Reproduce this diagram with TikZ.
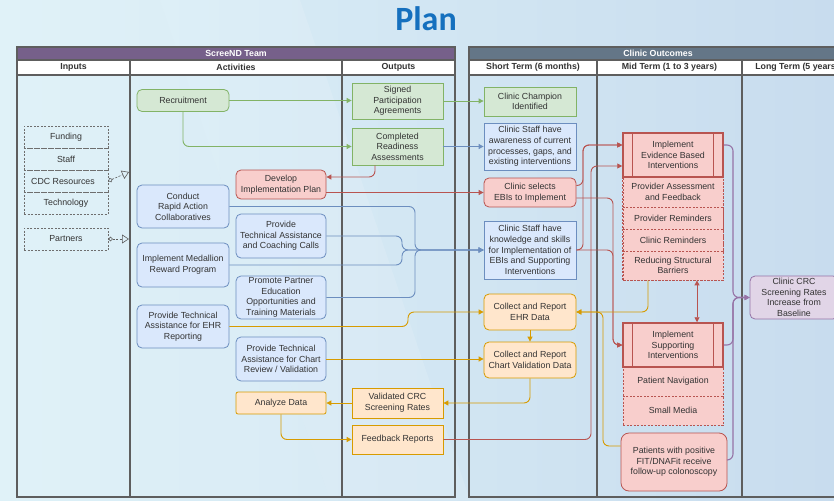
\documentclass[tikz,border=0pt]{standalone}
\usepackage{fontspec}
\setmainfont{Liberation Sans}
\newfontfamily\titlefont{Carlito}
\usetikzlibrary{arrows.meta,calc}
\definecolor{gfill}{HTML}{D5E8D4}\definecolor{gline}{HTML}{82B366}
\definecolor{bfill}{HTML}{DAE8FC}\definecolor{bline}{HTML}{6C8EBF}
\definecolor{rfill}{HTML}{F8CECC}\definecolor{rline}{HTML}{B85450}
\definecolor{ofill}{HTML}{FFE6CC}\definecolor{oline}{HTML}{D79B00}
\definecolor{pfill}{HTML}{E1D5E7}\definecolor{pline}{HTML}{9673A6}
\definecolor{txt}{HTML}{333333}
\definecolor{lanec}{HTML}{5E5E5E}
\definecolor{purph}{HTML}{76608A}
\definecolor{slateh}{HTML}{647687}
\definecolor{titleblue}{HTML}{1570BE}
\definecolor{bgA}{HTML}{DDF1F8}
\definecolor{bgB}{HTML}{C8DCEE}
\begin{document}
\begin{tikzpicture}[x=1pt,y=-1pt,font=\fontsize{8.8}{10.6}\selectfont,
  sz/.style 2 args={minimum width=#1,minimum height=#2},
  box/.style={draw,line width=0.8pt,align=center,inner sep=0pt,text=txt},
  gbox/.style={box,fill=gfill,draw=gline},
  bbox/.style={box,fill=bfill,draw=bline},
  rbox/.style={box,fill=rfill,draw=rline},
  obox/.style={box,fill=ofill,draw=oline},
  pbox/.style={box,fill=pfill,draw=pline},
  rnd/.style={rounded corners=5pt},
  inbox/.style={box,draw=lanec!90,dash pattern=on 2pt off 1.5pt,line width=0.6pt,sz={84}{22}},
  secbox/.style={rbox,dash pattern=on 2pt off 1.5pt,sz={100}{#1}},
  lane/.style={draw=lanec,line width=1.3pt},
  hdr/.style={font=\bfseries\fontsize{8.8}{10}\selectfont},
  tip/.style={-{Triangle[length=5pt,width=5pt]}},
  conn/.style={line width=0.9pt,rounded corners=6pt},
  garr/.style={conn,draw=gline,tip},
  barr/.style={conn,draw=bline,tip},
  rarr/.style={conn,draw=rline,tip},
  oarr/.style={conn,draw=oline,tip},
  parr/.style={conn,draw=pline,line width=1.1pt,tip},
  inarr/.style={draw=lanec,line width=0.6pt,dash pattern=on 2pt off 1.5pt,
     {Circle[open,length=4.5pt,width=4.5pt]}-{Triangle[open,length=7pt,width=9pt]}}
]
\useasboundingbox (0,0) rectangle (834,500);
\clip (0,0) rectangle (834,500);
% background
\shade[left color=bgA,right color=bgB] (0,0) rectangle (834,500);
\fill[white,opacity=0.12] (160,0) -- (300,0) -- (470,500) -- (330,500) -- cycle;
\fill[white,opacity=0.10] (0,0) -- (160,0) -- (330,500) -- (0,500) -- cycle;

% title
\node[font=\titlefont\bfseries\fontsize{34}{34}\selectfont,text=titleblue] (title) at (426,19) {Plan};

% ScreeND lane
\fill[purph] (17,47) rectangle (455,60);
\fill[white] (17,60) rectangle (455,75);
\draw[lane] (17,47) rectangle (455,497);
\draw[lane] (17,60) -- (455,60);
\draw[lane] (17,75) -- (455,75);
\draw[lane] (130,60) -- (130,497);
\draw[lane] (342,60) -- (342,497);
\node[hdr,text=white] (teamh) at (236,53.5) {ScreeND Team};
\node[hdr,text=txt] (inh) at (73.5,67.5) {Inputs};
\node[hdr,text=txt] (acth) at (236,67.5) {Activities};
\node[hdr,text=txt] (outh) at (398.5,67.5) {Outputs};

% Clinic lane
\fill[slateh] (469,47) rectangle (847,60);
\fill[white] (469,60) rectangle (847,75);
\draw[lane] (469,47) rectangle (847,497);
\draw[lane] (469,60) -- (847,60);
\draw[lane] (469,75) -- (847,75);
\draw[lane] (597,60) -- (597,497);
\draw[lane] (742,60) -- (742,497);
\node[hdr,text=white] (clinh) at (658,53.5) {Clinic Outcomes};
\node[hdr,text=txt] (sth) at (533,67.5) {Short Term (6 months)};
\node[hdr,text=txt] (mth) at (669.5,67.5) {Mid Term (1 to 3 years)};
\node[hdr,text=txt] (lth) at (797,67.5) {Long Term (5 years)};

% inputs
\node[inbox] (fund) at (66,137) {Funding};
\node[inbox] (staff) at (66,159) {Staff};
\node[inbox] (cdc) at (66,181) {CDC Resources\hspace{6pt}};
\node[inbox] (tech) at (66,203) {Technology};
\node[inbox] (part) at (66,239) {Partners};
\coordinate (cdcend) at (129,172);
\coordinate (partend) at (129,239);

% activities
\node[gbox,rnd,sz={92}{22}] (rec) at (183,100.5) {Recruitment};
\node[rbox,rnd,sz={90}{29}] (dev) at (281,184.5) {Develop\\Implementation Plan};
\node[bbox,rnd,sz={92}{43}] (crac) at (183,206.5) {Conduct\\Rapid Action\\Collaboratives};
\node[bbox,rnd,sz={90}{44}] (pta) at (281,236) {Provide\\Technical Assistance\\and Coaching Calls};
\node[bbox,rnd,sz={92}{44}] (med) at (183,265) {Implement Medallion\\Reward Program};
\node[bbox,rnd,sz={90}{43}] (ppe) at (281,297.5) {Promote Partner\\Education\\Opportunities and\\Training Materials};
\node[bbox,rnd,sz={92}{43}] (ehrr) at (183,326.5) {Provide Technical\\Assistance for EHR\\Reporting};
\node[bbox,rnd,sz={90}{44}] (chr) at (281,359) {Provide Technical\\Assistance for Chart\\Review / Validation};
\node[obox,rounded corners=2pt,sz={90}{22}] (ana) at (281,403) {Analyze Data};

% outputs
\node[gbox,sz={91}{36}] (spa) at (397.5,101) {Signed\\Participation\\Agreements};
\node[gbox,sz={91}{37}] (cra) at (397.5,146.5) {Completed\\Readiness\\Assessments};
\node[obox,sz={91}{30}] (vcrc) at (397.5,403) {Validated CRC\\Screening Rates};
\node[obox,sz={91}{29}] (fbr) at (397.5,439.5) {Feedback Reports};

% short term
\node[gbox,sz={92}{29}] (champ) at (530,101.5) {Clinic Champion\\Identified};
\node[bbox,sz={92}{47}] (aware) at (530,146.5) {Clinic Staff have\\awareness of current\\processes, gaps, and\\existing interventions};
\node[rbox,rnd,sz={92}{29}] (sel) at (530,192.5) {Clinic selects\\EBIs to Implement};
\node[bbox,sz={92}{58}] (know) at (530,250) {Clinic Staff have\\knowledge and skills\\for Implementation of\\EBIs and Supporting\\Interventions};
\node[obox,rnd,sz={92}{36}] (ehrd) at (530,312) {Collect and Report\\EHR Data};
\node[obox,rnd,sz={92}{36}] (cvd) at (530,360) {Collect and Report\\Chart Validation Data};

% mid term
\node[secbox=30] (pa) at (673,192) {Provider Assessment\\and Feedback};
\node[secbox=22] (pr) at (673,218) {Provider Reminders};
\node[secbox=22] (cr) at (673,240) {Clinic Reminders};
\node[secbox=29] (rsb) at (673,265.5) {Reducing Structural\\Barriers};
\draw[rline,line width=0.8pt,dash pattern=on 2pt off 1.5pt] (pa.north west) rectangle (rsb.south east);
\node[rbox,line width=1.5pt,sz={100}{44}] (ebi) at (673,155) {Implement\\Evidence Based\\Interventions};
\draw[rline,line width=1.2pt] ([xshift=10pt]ebi.north west) -- ([xshift=10pt]ebi.south west);
\draw[rline,line width=1.2pt] ([xshift=-10pt]ebi.north east) -- ([xshift=-10pt]ebi.south east);

\node[secbox=29] (pn) at (673,381.5) {Patient Navigation};
\node[secbox=29] (sm) at (673,410.5) {Small Media};
\node[rbox,line width=1.5pt,sz={100}{44}] (supp) at (673,345) {Implement\\Supporting\\Interventions};
\draw[rline,line width=1.2pt] ([xshift=10pt]supp.north west) -- ([xshift=10pt]supp.south west);
\draw[rline,line width=1.2pt] ([xshift=-10pt]supp.north east) -- ([xshift=-10pt]supp.south east);
\node[rbox,rounded corners=8pt,sz={106}{58}] (pat) at (674,462) {Patients with positive\\FIT/DNAFit receive\\follow-up colonoscopy};

% long term
\node[pbox,rnd,sz={88}{43}] (crc) at (794,297.5) {Clinic CRC\\Screening Rates\\Increase from\\Baseline};

% input connectors
\draw[inarr] (cdc.east) -- (cdcend);
\draw[inarr] (part.east) -- (partend);

% green
\draw[garr] (rec.east) -- (spa.west |- rec.east);
\draw[garr] (rec.south) |- (cra.west);
\draw[garr] (spa.east) -- (champ.west |- spa.east);
% blue
\draw[barr] (cra.east) -- (aware.west |- cra.east);
\coordinate (bjA) at (402,250);
\coordinate (bjB) at (415,250);
\draw[barr] (crac.east) -- (crac.east -| bjB) -- (bjB) -- (know.west);
\draw[barr] (ppe.east) -- (ppe.east -| bjB) -- (bjB) -- (know.west);
\draw[barr] (pta.east) -- (pta.east -| bjA) -- (bjA) -- (know.west);
\draw[barr] (med.east) -- (med.east -| bjA) -- (bjA) -- (know.west);
% red, left part
\draw[rarr] ([xshift=-22.5pt]cra.south) |- ([yshift=7.5pt]dev.east);
\draw[rarr] (dev.east |- sel.west) -- (sel.west);
% orange, left part
\coordinate (oj) at (408,0);
\draw[oarr] (ehrr.east) -- (ehrr.east -| oj) -- (ehrd.west -| oj) -- (ehrd.west);
\draw[oarr] (chr.east) -- (cvd.west |- chr.east);
\draw[oarr] (ehrd.south) -- (cvd.north);
\draw[oarr] (cvd.south) |- (vcrc.east);
\draw[oarr] (vcrc.west) -- (ana.east);
\draw[oarr] (ana.south) |- (fbr.west);
% red network
\coordinate (rx1) at (583,0);
\coordinate (rx2) at (591,0);
\coordinate (rx3) at (613,0);
\draw[rarr] ([yshift=7pt]sel.east) -- ([yshift=7pt]sel.east -| rx1) -- ([yshift=10pt]ebi.west -| rx1) -- ([yshift=10pt]ebi.west);
\draw[rarr] (know.east) -- (know.east -| rx1) -- ([yshift=10pt]ebi.west -| rx1) -- ([yshift=10pt]ebi.west);
\draw[rarr] (fbr.east) -- (fbr.east -| rx2) -- ([yshift=-11pt]ebi.west -| rx2) -- ([yshift=-11pt]ebi.west);
\draw[rarr] ([yshift=-5.5pt]sel.east) -- ([yshift=-5.5pt]sel.east -| rx3) -- (supp.west -| rx3) -- (supp.west);
\draw[rarr] (know.east) -- (know.east -| rx3) -- (supp.west -| rx3) -- (supp.west);
\draw[conn,draw=rline,{Triangle[length=5pt,width=5pt]}-{Triangle[length=5pt,width=5pt]}] ([xshift=24pt]rsb.south) -- ([xshift=24pt]supp.north);
% yellow from mid term
\coordinate (oy) at (603,0);
\draw[oarr] ([xshift=-25pt]rsb.south) |- (ehrd.east);
\draw[oarr] ([yshift=16pt]pat.west) -- ([yshift=16pt]pat.west -| oy) -- (ehrd.east -| oy) -- (ehrd.east);
% purple
\coordinate (pj) at (733,297.5);
\draw[parr] ([yshift=10pt]ebi.east) -- ([yshift=10pt]ebi.east -| pj) -- (pj) -- (crc.west);
\draw[parr] (supp.east) -- (supp.east -| pj) -- (pj) -- (crc.west);
\draw[parr] ([yshift=2pt]pat.east) -- ([yshift=2pt]pat.east -| pj) -- (pj) -- (crc.west);
\end{tikzpicture}
\end{document}
